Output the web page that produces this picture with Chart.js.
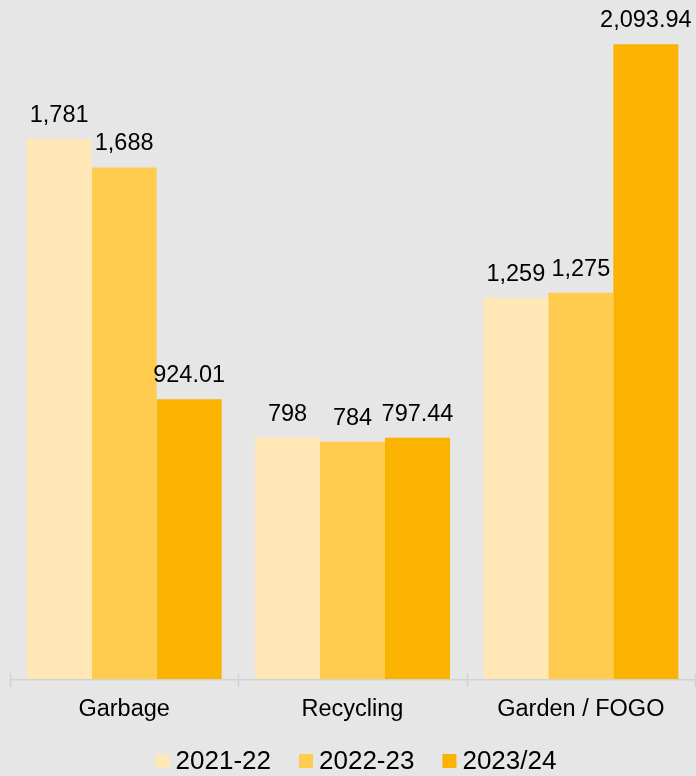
<!DOCTYPE html>
<html>
<head>
<meta charset="utf-8">
<title>Waste tonnes by stream</title>
<script src="https://cdn.jsdelivr.net/npm/chart.js@4"></script>
<style>
    html, body { margin: 0; padding: 0; background: #e6e6e6; }
    #wrap { width: 696px; height: 776px; position: relative; }
</style>
</head>
<body>
<div id="wrap"><canvas id="wasteChart"></canvas></div>
<script>
// Chart data
const categories = ['Garbage', 'Recycling', 'Garden / FOGO'];
const seriesLabels = ['2021-22', '2022-23', '2023/24'];
const values2122 = [1781, 798, 1259];
const values2223 = [1688, 784, 1275];
const values2324 = [924.01, 797.44, 2093.94];
const valueLabels = [
    ['1,781', '798', '1,259'],
    ['1,688', '784', '1,275'],
    ['924.01', '797.44', '2,093.94']
];
const colors = ['#ffe8b5', '#ffcc50', '#f9b300'];

const FONT = 'Arial, "Liberation Sans", sans-serif';

// Value labels above each bar
const barLabels = {
    id: 'barLabels',
    afterDatasetsDraw(chart) {
        const ctx = chart.ctx;
        ctx.save();
        ctx.font = '23.5px ' + FONT;
        ctx.fillStyle = '#000';
        ctx.textAlign = 'center';
        ctx.textBaseline = 'alphabetic';
        chart.data.datasets.forEach((ds, i) => {
            chart.getDatasetMeta(i).data.forEach((bar, j) => {
                ctx.fillText(valueLabels[i][j], bar.x, bar.y - 17);
            });
        });
        ctx.restore();
    }
};

// Category axis line with boundary ticks
const axisLine = {
    id: 'axisLine',
    afterDraw(chart) {
        const ctx = chart.ctx;
        const area = chart.chartArea;
        const x = chart.scales.x;
        const step = (area.right - area.left) / categories.length;
        ctx.save();
        ctx.strokeStyle = '#d2d2d2';
        ctx.lineWidth = 1.5;
        ctx.beginPath();
        ctx.moveTo(area.left, area.bottom);
        ctx.lineTo(area.right, area.bottom);
        for (let i = 0; i <= categories.length; i++) {
            const px = Math.round(x.left + i * step) + 0.5;
            ctx.moveTo(px, area.bottom - 6);
            ctx.lineTo(px, area.bottom + 7);
        }
        ctx.stroke();
        ctx.restore();
    }
};

// Legend drawn at the bottom (small square + gap like the original)
const bottomLegend = {
    id: 'bottomLegend',
    afterDraw(chart) {
        const ctx = chart.ctx;
        const box = 14, gap = 6, spacing = 28, y = 761;
        ctx.save();
        ctx.font = '26px ' + FONT;
        ctx.textBaseline = 'middle';
        ctx.textAlign = 'left';
        const widths = chart.data.datasets.map(ds => box + gap + ctx.measureText(ds.label).width);
        const total = widths.reduce((s, w) => s + w, 0) + spacing * (widths.length - 1);
        let cx = 356 - total / 2;
        chart.data.datasets.forEach((ds, i) => {
            ctx.fillStyle = ds.backgroundColor;
            ctx.fillRect(cx, y - box / 2, box, box);
            ctx.fillStyle = '#000';
            ctx.fillText(ds.label, cx + box + gap, y + 1);
            cx += widths[i] + spacing;
        });
        ctx.restore();
    }
};

document.addEventListener('DOMContentLoaded', function() {
    const ctx = document.getElementById('wasteChart');
    const series = [values2122, values2223, values2324];

    new Chart(ctx, {
        type: 'bar',
        data: {
            labels: categories,
            datasets: series.map((vals, i) => ({
                label: seriesLabels[i],
                data: vals,
                backgroundColor: colors[i],
                borderWidth: 0,
                categoryPercentage: 0.854,
                barPercentage: 1
            }))
        },
        options: {
            responsive: true,
            maintainAspectRatio: false,
            animation: false,
            layout: {
                padding: { top: 12, left: 10, right: 1, bottom: 44 }
            },
            plugins: {
                legend: { display: false },
                tooltip: { enabled: false }
            },
            scales: {
                y: {
                    display: false,
                    min: 0,
                    max: 2200
                },
                x: {
                    grid: { display: false },
                    border: { display: false },
                    ticks: {
                        color: '#000',
                        padding: 8,
                        font: { family: FONT, size: 23.5 }
                    }
                }
            }
        },
        plugins: [barLabels, axisLine, bottomLegend]
    });
});
</script>
</body>
</html>
